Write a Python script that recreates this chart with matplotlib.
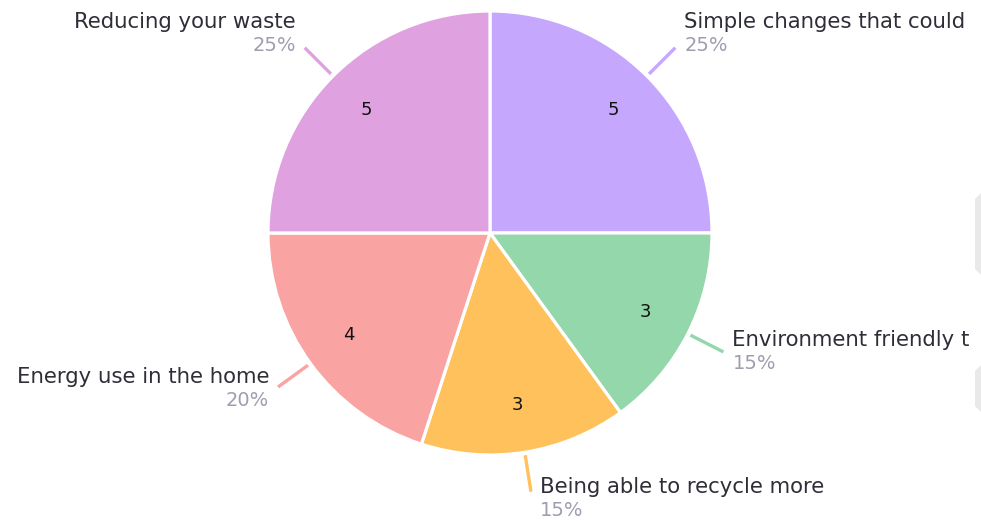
import numpy as np
import matplotlib.pyplot as plt
from matplotlib.patches import Polygon

# slices, clockwise from 12 o'clock (long labels are cut off in the source)
labels = ['Simple changes that could',
          'Environment friendly t',
          'Being able to recycle more',
          'Energy use in the home',
          'Reducing your waste']
counts = [5, 3, 3, 4, 5]
colors = ['#C5A8FD', '#93D7AA', '#FFC15B', '#F9A3A2', '#E0A1E1']
# small vertical nudges (px) of the outside labels
label_dy = [14, 0, -7, -2, 14]

W, H = 981, 521
CX, CY, R = 490, 288, 222


def main():
    fig = plt.figure(figsize=(W / 100, H / 100), dpi=100)
    ax = fig.add_axes([0, 0, 1, 1])

    total = sum(counts)
    wedges, texts = ax.pie(counts, colors=colors, startangle=90, counterclock=False,
                           center=(CX, CY), radius=R, labels=[str(c) for c in counts],
                           labeldistance=0.785, frame=True,
                           wedgeprops=dict(edgecolor='white', linewidth=2.3),
                           textprops=dict(fontsize=13, color='#111111'))
    for t in texts:
        t.set_ha('center')
        t.set_va('center')
    ax.set_xlim(0, W)
    ax.set_ylim(0, H)
    ax.set_aspect('equal')
    ax.axis('off')

    for w, lab, c, col, dy in zip(wedges, labels, counts, colors, label_dy):
        mid = np.deg2rad((w.theta1 + w.theta2) / 2)
        ux, uy = np.cos(mid), np.sin(mid)
        x0, y0 = CX + (R + 3) * ux, CY + (R + 3) * uy
        x1, y1 = CX + (R + 40) * ux, CY + (R + 40) * uy
        ax.plot([x0, x1], [y0, y1], color=col, lw=2.4, solid_capstyle='butt')
        if ux >= 0:
            tx, ha = x1 + 9, 'left'
        else:
            tx, ha = x1 - 9, 'right'
        pct = '%d%%' % round(100 * c / total)
        ax.text(tx, y1 + 12 + dy, lab, ha=ha, va='center', fontsize=15.3,
                color='#2E2E38')
        ax.text(tx, y1 - 12 + dy, pct, ha=ha, va='center', fontsize=14,
                color='#9E9EB0')

    # grey page edges at the right border
    for y_top, y_bot in [(193, 275), (365, 412)]:
        pts = [(975, H - y_top - 6), (981, H - y_top), (981, H - y_bot),
               (975, H - y_bot + 6)]
        fig.patches.append(Polygon([(x / W, y / H) for x, y in pts], closed=True,
                                   transform=fig.transFigure, color='#E9E9E9', lw=0))

    fig.savefig('out.png', dpi=100, facecolor='white')


if __name__ == "__main__":
    main()
